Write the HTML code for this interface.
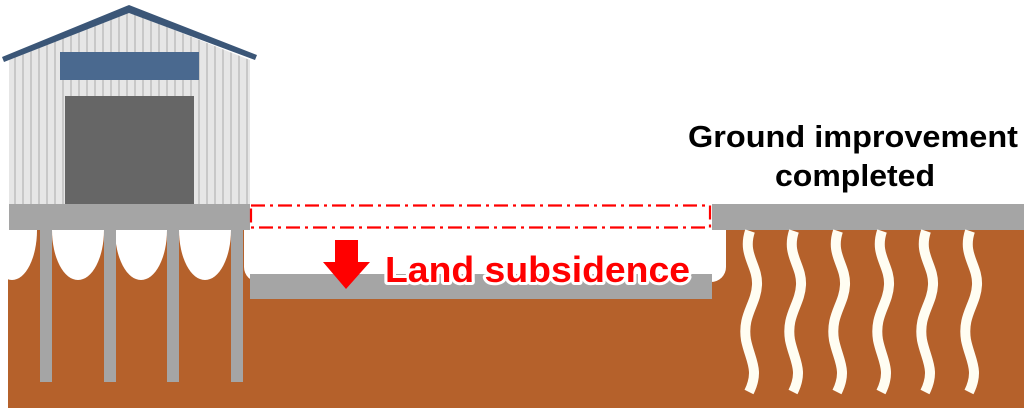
<!DOCTYPE html>
<html><head><meta charset="utf-8"><style>
body{margin:0;background:#fff;width:1024px;height:408px;overflow:hidden;}
svg{display:block}
</style></head><body>
<svg width="1024" height="408" viewBox="0 0 1024 408" xmlns="http://www.w3.org/2000/svg">
<defs><clipPath id="below"><rect x="0" y="230" width="1024" height="200"/></clipPath>
<pattern id="rib" width="8" height="10" patternUnits="userSpaceOnUse"><rect width="8" height="10" fill="#e6e6e6"/><rect x="6" width="2" height="10" fill="#c8c8c8"/></pattern></defs>
<rect x="8" y="230" width="1016" height="178" fill="#b5612b"/>
<g clip-path="url(#below)" fill="#fff">
<ellipse cx="12" cy="230" rx="25" ry="50"/>
<ellipse cx="78" cy="230" rx="26" ry="50"/>
<ellipse cx="141" cy="230" rx="26" ry="50"/>
<ellipse cx="205" cy="230" rx="26" ry="50"/>
<rect x="0" y="230" width="8" height="60"/>
</g>
<rect x="244" y="215" width="482" height="67" rx="15" fill="#fff"/>
<g fill="#a5a5a5">
<rect x="40" y="228" width="12" height="154"/>
<rect x="104" y="228" width="12" height="154"/>
<rect x="167" y="228" width="12" height="154"/>
<rect x="231" y="228" width="12" height="154"/>
</g>
<polygon points="9,60 129,12 250,60 250,205 9,205" fill="url(#rib)"/>
<polygon points="2,57 129,5 257,55 255,60 129,13 4,62" fill="#3b5677"/>
<rect x="60" y="52" width="139" height="28" fill="#4a698f"/>
<rect x="65" y="96" width="129" height="109" fill="#666"/>
<rect x="9" y="204" width="241" height="26" fill="#a5a5a5"/>
<rect x="712" y="204" width="312" height="26" fill="#a5a5a5"/>
<rect x="250" y="274" width="462" height="25" fill="#a5a5a5"/>
<rect x="251" y="205.5" width="459" height="22" fill="none" stroke="#f00" stroke-width="2.2" stroke-dasharray="14,5,3,5"/>
<polygon points="335,240 358,240 358,262 370,262 346,289 323,262 335,262" fill="#f00"/>
<text x="385" y="282" textLength="305" lengthAdjust="spacingAndGlyphs" font-family="Liberation Sans, sans-serif" font-weight="bold" font-size="36" fill="#f00" stroke="#fff" stroke-width="6" paint-order="stroke" stroke-linejoin="round">Land subsidence</text>
<g fill="none" stroke="#fffdf2" stroke-width="10">
<path id="w" d="M750,231 C742,255 758,265 757,285 C756,305 742,315 746,340 C750,360 760,370 749,392"/>
<use href="#w" x="44"/><use href="#w" x="88"/><use href="#w" x="132"/><use href="#w" x="176"/><use href="#w" x="220"/>
</g>
<g font-family="Liberation Sans, sans-serif" font-weight="bold" font-size="31" fill="#000">
<text x="688" y="147" textLength="330" lengthAdjust="spacingAndGlyphs">Ground improvement</text>
<text x="775" y="186" textLength="160" lengthAdjust="spacingAndGlyphs">completed</text>
</g>
</svg>
</body></html>
